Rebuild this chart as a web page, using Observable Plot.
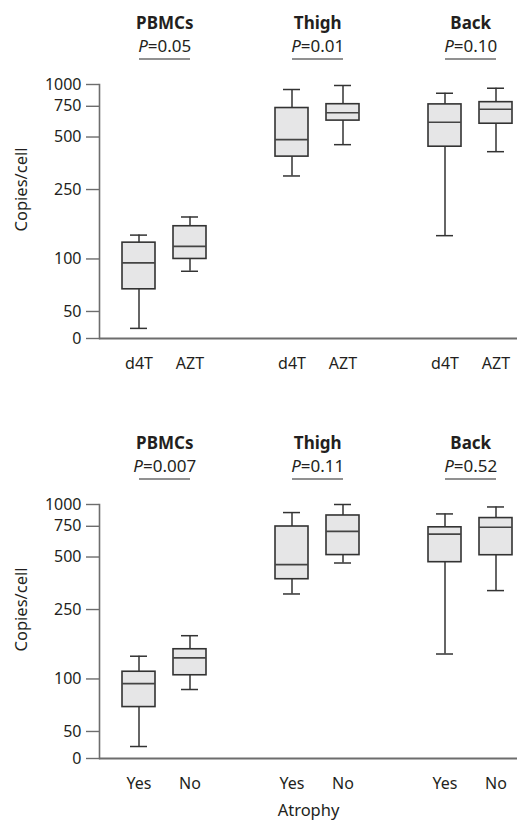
<!DOCTYPE html>
<html>
<head>
<meta charset="utf-8">
<script src="https://cdn.jsdelivr.net/npm/d3@7"></script>
<script src="https://cdn.jsdelivr.net/npm/@observablehq/plot@0.6"></script>
<style>
  html, body { margin: 0; padding: 0; background: #fff; overflow: hidden; }
  #chart svg { display: block; }
</style>
</head>
<body>
<div id="chart"></div>
<script>
// ---- data ----
const sites = ["PBMCs", "Thigh", "Back"];
const treatments = ["d4T", "AZT"];
const atrophyGroups = ["Yes", "No"];
const pTreatment = ["0.05", "0.01", "0.10"];
const pAtrophy = ["0.007", "0.11", "0.52"];
// each row: [min, q1, median, q3, max] per site (PBMCs, Thigh, Back)
const d4TStats = [[40, 67, 95, 124, 137], [299, 386, 483, 733, 936], [136, 440, 607, 769, 891]];
const aztStats = [[85, 100, 118, 154, 174], [452, 621, 689, 771, 987], [412, 596, 722, 792, 952]];
const yesStats = [[41, 69, 94, 110, 135], [307, 373, 452, 748, 899], [139, 467, 676, 740, 883]];
const noStats = [[87, 105, 132, 148, 177], [462, 513, 701, 865, 1000], [321, 512, 741, 836, 968]];
const yTickLabels = [0, 50, 100, 250, 500, 750, 1000];
const yFloor = 35; // where the axis "0" sits on the log scale
const yLabel = "Copies/cell";
const xTitle = "Atrophy";

// ---- layout ----
const W = 517, ML = 99, MR = 0, MT = 84;
const padInner = 0.36, padOuter = 0.2385, align = 0.815;
const ink = "#231f20", boxInk = "#333", axisInk = "#6d6d6d";

function panel(groups, statsList, pValues, height, marginBottom, showTitle) {
  const xDomain = sites.flatMap((s, i) => [
    ...groups.map(g => `${s}|${g}`),
    ...(i < sites.length - 1 ? [`gap${i}`] : [])
  ]);
  const realKeys = xDomain.filter(k => k.includes("|"));
  const step = (W - ML - MR) / (xDomain.length - padInner + 2 * padOuter);
  const rows = sites.flatMap((site, i) => groups.map((g, j) => {
    const [min, q1, med, q3, max] = statsList[j][i];
    return {key: `${site}|${g}`, site, g, min, q1, med, q3, max};
  }));
  const heads = sites.map((site, i) => ({
    site, p: `P=${pValues[i]}`,
    k1: `${site}|${groups[0]}`, k2: `${site}|${groups[1]}`, top: 1000
  }));
  const yTicks = yTickLabels.map(v => ({pos: v === 0 ? yFloor : v, label: String(v)}));
  const marks = [
    Plot.frame({anchor: "left", stroke: axisInk, strokeWidth: 1.6}),
    Plot.ruleY([yFloor], {stroke: axisInk, strokeWidth: 1.8}),
    Plot.axisY({ticks: yTicks.map(d => d.pos), tickFormat: () => "",
      tickSize: 13, tickPadding: 5, stroke: axisInk, strokeWidth: 1.4, label: null}),
    Plot.text(yTicks, {y: "pos", text: "label", frameAnchor: "left", textAnchor: "end", dx: -18,
      fontSize: 16, fill: ink}),
    Plot.axisX({ticks: realKeys, tickFormat: k => k.split("|")[1], tickSize: 0, tickPadding: 19,
      fontSize: 16, label: null, fill: ink}),
    Plot.text([yLabel], {frameAnchor: "left", textAnchor: "middle", rotate: -90, dx: -78, dy: -22,
      fontSize: 16.5, fill: ink}),
    // whiskers
    Plot.ruleX(rows, {x: "key", y1: "min", y2: "q1", stroke: boxInk, strokeWidth: 1.5}),
    Plot.ruleX(rows, {x: "key", y1: "q3", y2: "max", stroke: boxInk, strokeWidth: 1.5}),
    Plot.tickY(rows, {x: "key", y: "min", stroke: boxInk, strokeWidth: 1.5, insetLeft: 8, insetRight: 8}),
    Plot.tickY(rows, {x: "key", y: "max", stroke: boxInk, strokeWidth: 1.5, insetLeft: 8, insetRight: 8}),
    // boxes
    Plot.barY(rows, {x: "key", y1: "q1", y2: "q3", fill: "#e6e6e7", stroke: boxInk, strokeWidth: 1.6}),
    Plot.tickY(rows, {x: "key", y: "med", stroke: "#444", strokeWidth: 1.6}),
    // headers
    Plot.text(heads, {x: "k1", frameAnchor: "top", text: "site", dx: step / 2, dy: -56, lineAnchor: "bottom",
      fontWeight: "bold", fontSize: 17, fill: ink}),
    Plot.text(heads, {x: "k1", frameAnchor: "top", text: "p", dx: step / 2, dy: -33, lineAnchor: "bottom",
      fontSize: 17, fill: ink}),
    Plot.link(heads, {x1: "k1", x2: "k2", y1: "top", y2: "top", dy: -25.5, stroke: axisInk, strokeWidth: 1.6})
  ];
  if (showTitle) {
    marks.push(Plot.text([xTitle], {frameAnchor: "bottom", textAnchor: "middle", dy: 57, lineAnchor: "bottom",
      fontSize: 16.5, fill: ink}));
  }
  const svg = Plot.plot({
    width: W, height, marginLeft: ML, marginRight: MR, marginTop: MT, marginBottom,
    style: {fontFamily: "'Noto Sans', 'Open Sans', sans-serif", color: ink, background: "#fff"},
    x: {type: "band", domain: xDomain, paddingInner: padInner, paddingOuter: padOuter, align},
    y: {type: "log", domain: [yFloor, 1000]},
    marks
  });
  // italic P in the p-value labels
  const ns = "http://www.w3.org/2000/svg";
  svg.querySelectorAll("text").forEach(t => {
    if (t.children.length === 0 && /^P=/.test(t.textContent)) {
      const rest = t.textContent.slice(1);
      t.textContent = "";
      const ts = document.createElementNS(ns, "tspan");
      ts.setAttribute("font-style", "italic");
      ts.textContent = "P";
      t.appendChild(ts);
      t.appendChild(document.createTextNode(rest));
    }
  });
  return svg;
}

const root = document.getElementById("chart");
root.appendChild(panel(treatments, [d4TStats, aztStats], pTreatment, 420, 82, false));
root.appendChild(panel(atrophyGroups, [yesStats, noStats], pAtrophy, 407, 69, true));
</script>
</body>
</html>
